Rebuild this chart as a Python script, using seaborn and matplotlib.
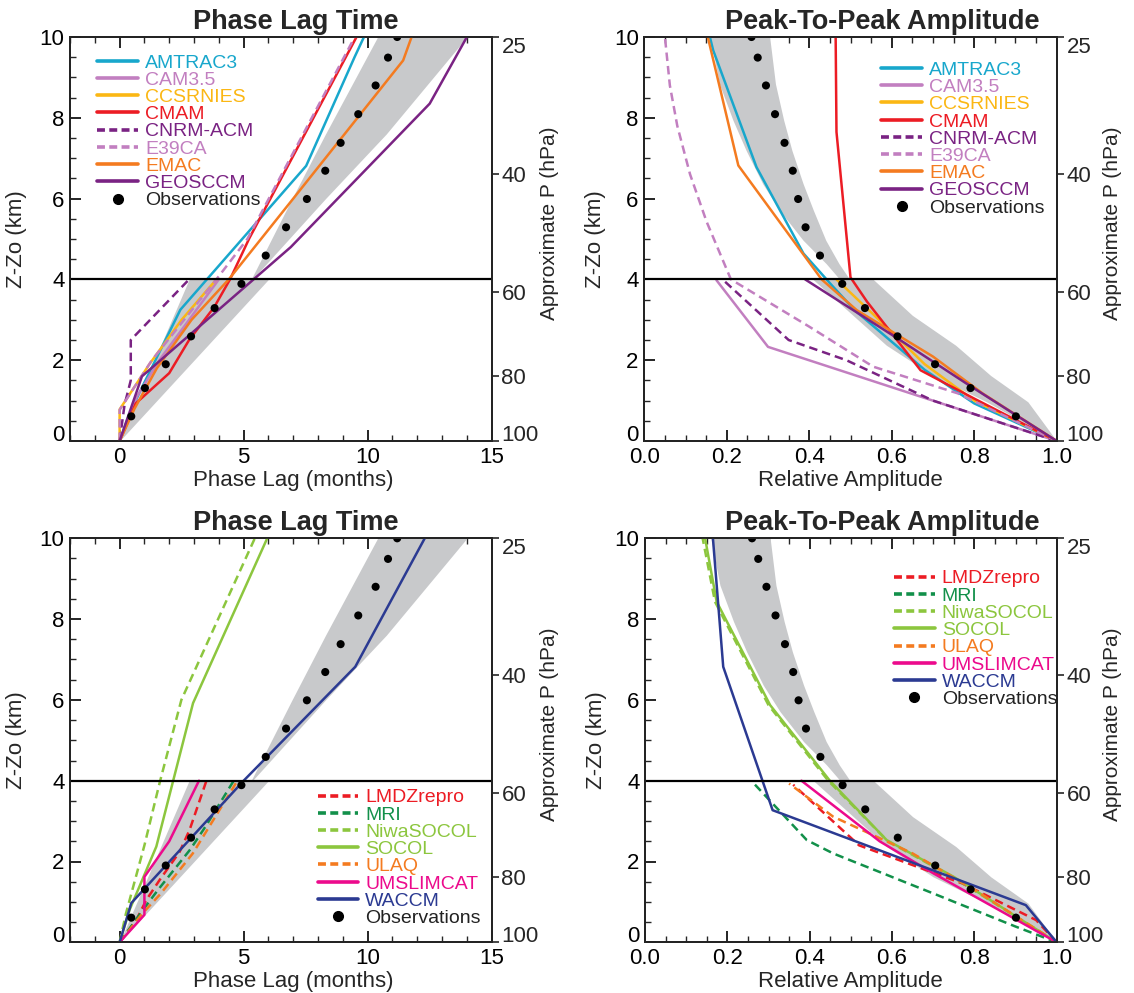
import numpy as np
import pandas as pd
import matplotlib
matplotlib.use("Agg")
import matplotlib.pyplot as plt
import seaborn as sns
from matplotlib.lines import Line2D
from matplotlib.ticker import MultipleLocator, FormatStrFormatter

# ---------------- data ----------------
obs_z = [0.61, 1.31, 1.90, 2.59, 3.29, 3.89, 4.59, 5.29, 5.99, 6.69, 7.38, 8.09, 8.80, 9.49, 10.0]
obs_phase = [0.47, 1.02, 1.86, 2.88, 3.83, 4.91, 5.89, 6.71, 7.55, 8.29, 8.91, 9.62, 10.32, 10.82, 11.19]
obs_amp = [0.901, 0.791, 0.705, 0.614, 0.535, 0.480, 0.426, 0.391, 0.373, 0.360, 0.340, 0.317, 0.295, 0.275, 0.260]

# observational uncertainty (grey shading)
band_phase_low_z = [0.0, 4.0]
band_phase_low_left = [0.0, 2.8]
band_phase_low_right = [0.0, 6.0]
band_phase_up_z = [4.0, 6.0, 7.6, 10.0]
band_phase_up_left = [5.3, 6.95, 8.3, 10.4]
band_phase_up_right = [5.35, 8.3, 10.75, 14.0]

band_amp_low_z = [0.0, 0.97, 1.62, 2.37, 3.11, 4.0]
band_amp_low_left = [1.0, 0.83, 0.70, 0.587, 0.506, 0.409]
band_amp_low_right = [1.0, 0.93, 0.84, 0.755, 0.65, 0.555]
band_amp_up_z = [4.0, 4.39, 4.97, 5.71, 6.37, 7.19, 7.94, 8.84, 10.0]
band_amp_up_left = [0.474, 0.441, 0.385, 0.328, 0.287, 0.247, 0.215, 0.182, 0.160]
band_amp_up_right = [0.498, 0.472, 0.440, 0.410, 0.385, 0.358, 0.338, 0.318, 0.304]

# ---- top row models: phase lag (months) ----
ph_AMTRAC3 = [0, 0.35, 0.92, 2.45, 7.52, 9.47, 9.85]
ph_AMTRAC3_z = [0, 0.6, 1.35, 3.25, 6.81, 9.5, 10]
ph_CAM35 = [0, 0.7, 1.6, 2.8, 4.0]
ph_CAM35_z = [0, 1.1, 2.0, 3.0, 4.0]
ph_CCSRNIES = [0, 0, 1.2, 2.5, 3.9]
ph_CCSRNIES_z = [0, 0.78, 1.9, 3.0, 4.0]
ph_CMAM = [0, 0.65, 2.0, 2.8, 3.82, 4.45, 5.23, 9.55]
ph_CMAM_z = [0, 0.93, 1.68, 2.5, 3.32, 4.0, 5.02, 10]
ph_CNRM = [0, 0.2, 0.45, 0.45, 2.8]
ph_CNRM_z = [0, 0.9, 1.5, 2.5, 4.0]
ph_E39CA = [0, 0, 1.3, 2.6, 3.9, 5.15, 9.48]
ph_E39CA_z = [0, 0.77, 2.0, 3.0, 4.0, 5.0, 10]
ph_EMAC = [0, 0.6, 1.5, 2.9, 4.4, 7.0, 11.43, 11.77]
ph_EMAC_z = [0, 0.8, 1.8, 3.0, 4.0, 6.0, 9.42, 10]
ph_GEOSCCM = [0, 0.9, 6.9, 12.5, 14.0]
ph_GEOSCCM_z = [0, 1.6, 4.8, 8.35, 10]

# ---- top row models: relative amplitude ----
am_AMTRAC3 = [1.0, 0.80, 0.68, 0.51, 0.455, 0.386, 0.272, 0.167, 0.159]
am_AMTRAC3_z = [0, 0.93, 1.76, 3.24, 3.85, 4.64, 6.78, 9.67, 10]
am_CAM35 = [1.0, 0.30, 0.175]
am_CAM35_z = [0, 2.33, 3.98]
am_CCSRNIES = [1.0, 0.8, 0.68, 0.6, 0.466]
am_CCSRNIES_z = [0, 1.0, 1.9, 2.7, 4.0]
am_CMAM = [1.0, 0.80, 0.67, 0.54, 0.50, 0.466, 0.464]
am_CMAM_z = [0, 1.05, 1.75, 3.45, 4.05, 7.65, 10]
am_CNRM = [1.0, 0.70, 0.49, 0.35, 0.195]
am_CNRM_z = [0, 1.0, 2.0, 2.5, 3.95]
am_E39CA = [1.0, 0.76, 0.555, 0.40, 0.21, 0.151, 0.111, 0.08, 0.062, 0.05]
am_E39CA_z = [0, 1.18, 1.84, 2.83, 4.0, 5.43, 6.6, 7.8, 8.8, 10]
am_EMAC = [1.0, 0.82, 0.70, 0.515, 0.43, 0.228, 0.154]
am_EMAC_z = [0, 1.18, 2.09, 3.24, 4.0, 6.82, 10]
am_GEOSCCM = [1.0, 0.78, 0.62, 0.39]
am_GEOSCCM_z = [0, 1.43, 2.5, 4.0]

# ---- bottom row models: phase lag ----
ph_LMDZ = [0, 0.67, 1.08, 1.61, 2.42, 2.82, 3.5]
ph_LMDZ_z = [0, 0.55, 1.05, 1.54, 2.24, 2.78, 4.0]
ph_MRI = [0, 1.0, 1.55, 2.85, 3.5, 4.6]
ph_MRI_z = [0, 0.85, 1.3, 2.3, 2.9, 4.0]
ph_NIWA = [0, 0.25, 1.0, 1.61, 2.49, 5.45]
ph_NIWA_z = [0, 0.7, 2.4, 3.94, 6.0, 10]
ph_SOCOL = [0, 0.4, 1.48, 2.96, 5.95]
ph_SOCOL_z = [0, 0.8, 2.37, 5.92, 10]
ph_ULAQ = [0, 0.9, 1.65, 2.95, 3.65, 4.75]
ph_ULAQ_z = [0, 0.7, 1.2, 2.2, 2.9, 4.0]
ph_UMSLIM = [0, 1.0, 1.0, 2.0, 3.2]
ph_UMSLIM_z = [0, 0.68, 1.62, 2.5, 4.0]
ph_WACCM = [0, 0.47, 5.0, 9.5, 12.3]
ph_WACCM_z = [0, 0.97, 4.0, 6.82, 10]

# ---- bottom row models: relative amplitude ----
am_LMDZ = [1.0, 0.95, 0.77, 0.52, 0.36]
am_LMDZ_z = [0, 0.55, 1.46, 2.4, 3.9]
am_MRI = [1.0, 0.90, 0.70, 0.457, 0.393, 0.26]
am_MRI_z = [0, 0.39, 1.21, 2.2, 2.53, 3.98]
am_NIWA = [1.0, 0.75, 0.59, 0.445, 0.30, 0.17, 0.14]
am_NIWA_z = [0, 1.6, 2.5, 4.0, 5.87, 8.43, 10]
am_SOCOL = [1.0, 0.75, 0.587, 0.449, 0.304, 0.174, 0.146]
am_SOCOL_z = [0, 1.62, 2.53, 4.0, 5.87, 8.43, 10]
am_ULAQ = [1.0, 0.8, 0.65, 0.457, 0.35]
am_ULAQ_z = [0, 1.3, 2.2, 3.11, 3.93]
am_UMSLIM = [1.0, 0.70, 0.57, 0.38]
am_UMSLIM_z = [0, 1.71, 2.5, 4.0]
am_WACCM = [1.0, 0.925, 0.31, 0.19, 0.165]
am_WACCM_z = [0, 0.92, 3.27, 6.82, 10]

pressure_ticks = [25, 40, 60, 80, 100]

top_models = ["AMTRAC3", "CAM3.5", "CCSRNIES", "CMAM", "CNRM-ACM", "E39CA", "EMAC", "GEOSCCM"]
bottom_models = ["LMDZrepro", "MRI", "NiwaSOCOL", "SOCOL", "ULAQ", "UMSLIMCAT", "WACCM"]

# ---------------- styles ----------------
colors = {
    "AMTRAC3": "#18a7cc", "CAM3.5": "#c27fc0", "CCSRNIES": "#fbb714", "CMAM": "#ec1c24",
    "CNRM-ACM": "#7a2383", "E39CA": "#c27fc0", "EMAC": "#f47b20", "GEOSCCM": "#7a2383",
    "LMDZrepro": "#ec1c24", "MRI": "#12904a", "NiwaSOCOL": "#8cc63e", "SOCOL": "#8cc63e",
    "ULAQ": "#f47b20", "UMSLIMCAT": "#ec0a8c", "WACCM": "#2b3a92",
}
dashed = {"CNRM-ACM", "E39CA", "LMDZrepro", "MRI", "NiwaSOCOL", "ULAQ"}
DASH = (0, (3.4, 2.0))

phase_top = {"AMTRAC3": (ph_AMTRAC3, ph_AMTRAC3_z), "CAM3.5": (ph_CAM35, ph_CAM35_z),
             "CCSRNIES": (ph_CCSRNIES, ph_CCSRNIES_z), "CMAM": (ph_CMAM, ph_CMAM_z),
             "CNRM-ACM": (ph_CNRM, ph_CNRM_z), "E39CA": (ph_E39CA, ph_E39CA_z),
             "EMAC": (ph_EMAC, ph_EMAC_z), "GEOSCCM": (ph_GEOSCCM, ph_GEOSCCM_z)}
amp_top = {"AMTRAC3": (am_AMTRAC3, am_AMTRAC3_z), "CAM3.5": (am_CAM35, am_CAM35_z),
           "CCSRNIES": (am_CCSRNIES, am_CCSRNIES_z), "CMAM": (am_CMAM, am_CMAM_z),
           "CNRM-ACM": (am_CNRM, am_CNRM_z), "E39CA": (am_E39CA, am_E39CA_z),
           "EMAC": (am_EMAC, am_EMAC_z), "GEOSCCM": (am_GEOSCCM, am_GEOSCCM_z)}
phase_bot = {"LMDZrepro": (ph_LMDZ, ph_LMDZ_z), "MRI": (ph_MRI, ph_MRI_z),
             "NiwaSOCOL": (ph_NIWA, ph_NIWA_z), "SOCOL": (ph_SOCOL, ph_SOCOL_z),
             "ULAQ": (ph_ULAQ, ph_ULAQ_z), "UMSLIMCAT": (ph_UMSLIM, ph_UMSLIM_z),
             "WACCM": (ph_WACCM, ph_WACCM_z)}
amp_bot = {"LMDZrepro": (am_LMDZ, am_LMDZ_z), "MRI": (am_MRI, am_MRI_z),
           "NiwaSOCOL": (am_NIWA, am_NIWA_z), "SOCOL": (am_SOCOL, am_SOCOL_z),
           "ULAQ": (am_ULAQ, am_ULAQ_z), "UMSLIMCAT": (am_UMSLIM, am_UMSLIM_z),
           "WACCM": (am_WACCM, am_WACCM_z)}

# ---------------- theme ----------------
sns.set_theme(style="ticks")
plt.rcParams["font.family"] = ["Liberation Sans", "DejaVu Sans"]
plt.rcParams["axes.linewidth"] = 1.3
TICK_FS = 16
LAB_FS = 16
LEG_FS = 14
BAND = "#c8c9cb"
H = 10.0 / np.log(4.0)

fig = plt.figure(figsize=(11.34, 9.93), dpi=100)
W, Hh = 1134.0, 993.0
def add_ax(l, r, t, b):
    return fig.add_axes([l / W, 1 - b / Hh, (r - l) / W, (b - t) / Hh])

ax_tl = add_ax(70, 491.7, 37, 441)
ax_tr = add_ax(644.3, 1056.7, 37, 441)
ax_bl = add_ax(70, 491.7, 538.3, 942.3)
ax_br = add_ax(645, 1056.7, 538.3, 942.3)


def draw_models(ax, table, order):
    for name in order:
        xs, zs = table[name]
        df = pd.DataFrame({"x": xs, "z": zs})
        ls = DASH if name in dashed else "-"
        sns.lineplot(data=df, x="x", y="z", sort=False, estimator=None, ax=ax,
                     color=colors[name], lw=1.8, linestyle=ls, zorder=3)


def draw_obs(ax, xs):
    df = pd.DataFrame({"x": xs, "z": obs_z})
    sns.scatterplot(data=df, x="x", y="z", ax=ax, color="black", s=34,
                    edgecolor="none", zorder=5, clip_on=True)


twins = []


def style_axes(ax, kind, title, title_x, ylab_x, rlab_x):
    ax.set_ylim(0, 10)
    if kind == "phase":
        ax.set_xlim(-2, 15)
        ax.xaxis.set_major_locator(MultipleLocator(5))
        ax.xaxis.set_minor_locator(MultipleLocator(1))
        ax.set_xlabel("Phase Lag (months)", fontsize=LAB_FS)
        ax.xaxis.set_label_coords(0.53, -0.072)
    else:
        ax.set_xlim(0, 1)
        ax.xaxis.set_major_locator(MultipleLocator(0.2))
        ax.xaxis.set_minor_locator(MultipleLocator(0.05))
        ax.xaxis.set_major_formatter(FormatStrFormatter("%.1f"))
        ax.set_xlabel("Relative Amplitude", fontsize=LAB_FS)
        ax.xaxis.set_label_coords(0.5, -0.072)
    ax.yaxis.set_major_locator(MultipleLocator(2))
    ax.yaxis.set_minor_locator(MultipleLocator(0.5))
    ax.tick_params(axis="both", which="major", direction="in", length=8, width=1.2,
                   labelsize=TICK_FS, top=True, right=False, pad=4, colors="black")
    ax.tick_params(axis="both", which="minor", direction="in", length=4, width=1.0,
                   top=True, right=False)
    ax.set_ylabel("Z-Zo (km)", fontsize=LAB_FS)
    ax.yaxis.set_label_coords(ylab_x, 0.5)
    ax.axhline(4, color="black", lw=1.6, zorder=4)
    ax.set_title(title, fontsize=19.5, fontweight="bold", x=title_x, pad=6)
    for sp in ax.spines.values():
        sp.set_color("black")
    ax2 = ax.twinx()
    ax2.set_ylim(0, 10)
    ax2.set_yticks([H * np.log(100.0 / p) for p in pressure_ticks])
    ax2.set_yticklabels([str(p) for p in pressure_ticks])
    ax2.tick_params(axis="y", direction="out", length=5, width=1.2, labelsize=TICK_FS, pad=2)
    ax2.set_ylabel("Approximate P (hPa)", fontsize=15)
    ax2.yaxis.set_label_coords(rlab_x, 0.54)
    ax2.grid(False)
    twins.append(ax2)
    return ax2


def add_legend(ax, order, anchor):
    handles = []
    for name in order:
        ls = (0, (2.2, 1.2)) if name in dashed else "-"
        handles.append(Line2D([], [], color=colors[name], lw=2.6, linestyle=ls, label=name))
    handles.append(Line2D([], [], color="black", marker="o", markersize=7, linestyle="none",
                          label="Observations"))
    leg = ax.legend(handles=handles, loc="upper left", bbox_to_anchor=anchor, frameon=False,
                    fontsize=LEG_FS, handlelength=2.1, handletextpad=0.35,
                    labelspacing=-0.02, borderaxespad=0.0, borderpad=0.0)
    for txt, h in zip(leg.get_texts(), handles):
        txt.set_color(h.get_color() if h.get_label() != "Observations" else "#222222")
    leg.set_zorder(6)


# ---- phase panels ----
for ax, table, order in [(ax_tl, phase_top, top_models), (ax_bl, phase_bot, bottom_models)]:
    ax.fill_betweenx(band_phase_low_z, band_phase_low_left, band_phase_low_right,
                     color=BAND, lw=0, zorder=1)
    ax.fill_betweenx(band_phase_up_z, band_phase_up_left, band_phase_up_right,
                     color=BAND, lw=0, zorder=1)
    draw_models(ax, table, order)
    draw_obs(ax, obs_phase)
    style_axes(ax, "phase", "Phase Lag Time", 0.535, -0.102, 1.115)

# ---- amplitude panels ----
for ax, table, order in [(ax_tr, amp_top, top_models), (ax_br, amp_bot, bottom_models)]:
    ax.fill_betweenx(band_amp_low_z, band_amp_low_left, band_amp_low_right,
                     color=BAND, lw=0, zorder=1)
    ax.fill_betweenx(band_amp_up_z, band_amp_up_left, band_amp_up_right,
                     color=BAND, lw=0, zorder=1)
    draw_models(ax, table, order)
    draw_obs(ax, obs_amp)
    style_axes(ax, "amp", "Peak-To-Peak Amplitude", 0.576, -0.093, 1.112)

add_legend(ax_tl, top_models, (0.065, 0.958))
add_legend(ax_tr, top_models, (0.575, 0.94))
add_legend(ax_bl, bottom_models, (0.587, 0.38))
add_legend(ax_br, bottom_models, (0.605, 0.922))

# nudge end tick labels inward, as in the original figure
fig.canvas.draw()
for ax in [ax_tl, ax_tr, ax_bl, ax_br]:
    for tick in ax.yaxis.get_major_ticks():
        if abs(tick.get_loc()) < 1e-9:
            tick.label1.set_verticalalignment("baseline")
for ax2 in twins:
    for tick in ax2.yaxis.get_major_ticks():
        loc = tick.get_loc()
        if abs(loc) < 1e-9:
            tick.label2.set_verticalalignment("baseline")
        elif abs(loc - 10) < 1e-6:
            tick.label2.set_verticalalignment("top")

fig.savefig("out.png", dpi=100)
